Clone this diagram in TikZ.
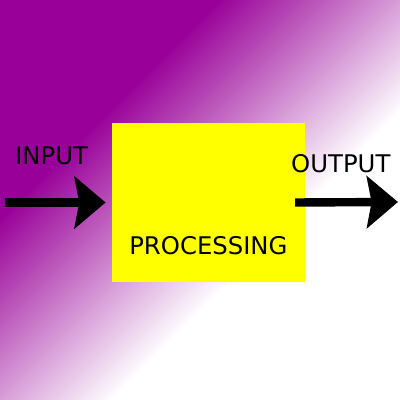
\documentclass[tikz,border=0pt]{standalone}
\usepackage{fontspec}
\setmainfont{DejaVu Sans}
\usetikzlibrary{positioning, calc, arrows.meta}
\definecolor{P}{RGB}{153,0,153}
\definecolor{Y}{RGB}{255,255,0}
\tikzstyle{block} = [rectangle, fill=Y, inner sep=0pt,
minimum width=4.825cm,
minimum height=3.975cm]
\tikzstyle{lbl} = [inner sep=0pt, font=\fontsize{17.3}{20}\selectfont]
\tikzstyle{arrow} = [-{Stealth[length=0.78cm, width=1.3cm, inset=0.12cm]}, line width=0.21cm]

\begin{document}
\begin{tikzpicture}
      \useasboundingbox (0,0) rectangle (10,10);
      % background: purple fading to white along the diagonal
      \begin{scope}
        \clip (0,0) rectangle (10,10);
        \begin{scope}[transform canvas={shift={(0,10)}, rotate=-45}]
          \shade[left color=P, right color=white] (3.85,-8) rectangle (9.055,8);
          \fill[P] (-1,-8) rectangle (3.89,8);
          \fill[white] (9.015,-8) rectangle (15,8);
        \end{scope}
      \end{scope}

      \node[block] (proc) at (5.21,4.9375) {};
      \node[lbl, above=0.675cm of proc.south] (proctext) {PROCESSING};

      \coordinate (in)  at (0.125,4.9375);
      \coordinate (out) at (9.95,4.95);
      \node[lbl, anchor=base] (intext)  at (1.29,5.875) {INPUT};
      \node[lbl, anchor=base] (outtext) at (8.52,5.675) {OUTPUT};

      \draw[arrow, shorten >=0.15cm] (in) -- (proc.west);
      \draw[arrow] ([xshift=-0.25cm]proc.east) -- (out);
\end{tikzpicture}
\end{document}
